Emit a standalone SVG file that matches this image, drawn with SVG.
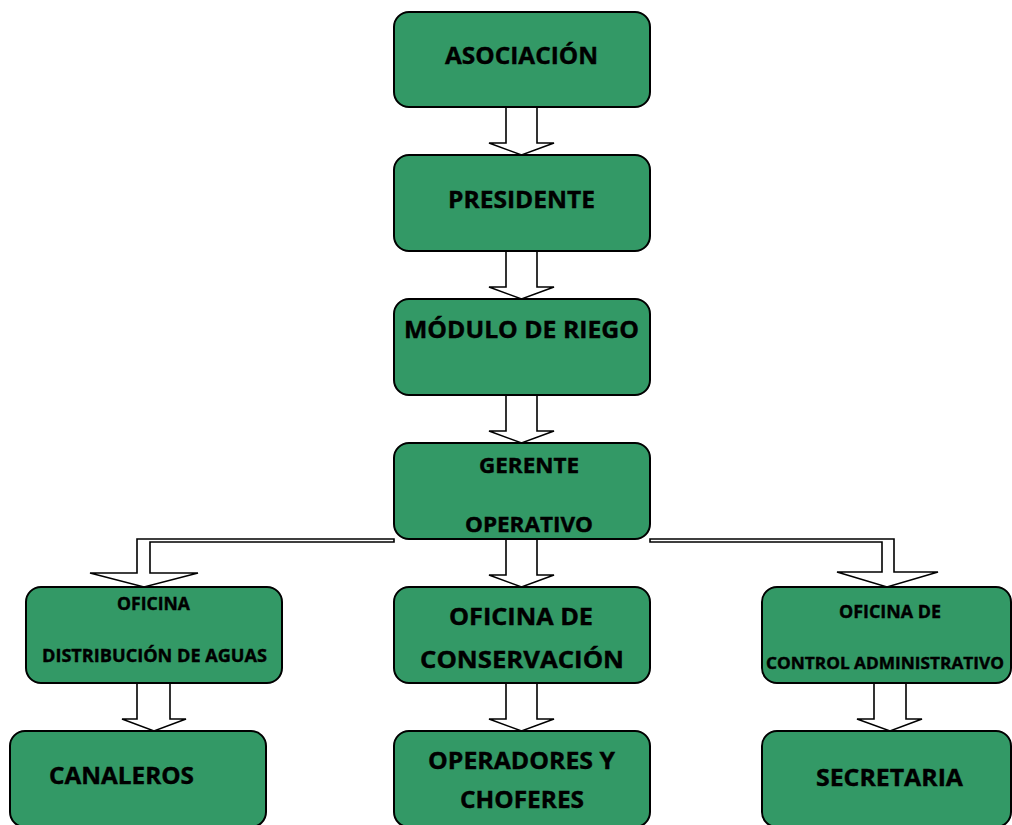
<svg xmlns="http://www.w3.org/2000/svg" width="1012" height="825" viewBox="0 0 1012 825">
<style>
.box{fill:#339966;stroke:#000;stroke-width:2}
.arr{fill:#fff;stroke:#000;stroke-width:1.6;stroke-linejoin:miter}
text{font-family:"Open Sans","Liberation Sans",sans-serif;font-weight:bold;fill:#000;stroke:#000;stroke-width:0.4}
.l{font-size:24px}
.m{font-size:21px}
.s{font-size:18px}
</style>
<rect width="1012" height="825" fill="#fff"/>
<g id="connectors">
<polygon class="arr" points="506,107 537,107 537,143 554,143 521.5,155 489,143 506,143"/>
<polygon class="arr" points="506,251 537,251 537,287 554,287 521.5,299 489,287 506,287"/>
<polygon class="arr" points="506,395 537,395 537,431 554,431 521.5,443 489,431 506,431"/>
<polygon class="arr" points="506,539 537,539 537,575 554,575 521.5,587 489,575 506,575"/>
<polygon class="arr" points="394,539 137,539 137,573 90,573 144,587 198,573 150,573 150,542 394,542"/>
<polygon class="arr" points="650,539 894,539 894,572 938,572 887,587 837,572 882,572 882,542 650,542"/>
<polygon class="arr" points="137,683 170,683 170,719 186,719 154,731 122,719 137,719"/>
<polygon class="arr" points="506,683 537,683 537,719 554,719 521.5,731 489,719 506,719"/>
<polygon class="arr" points="874,683 906,683 906,719 922,719 890,731 857,719 874,719"/>
</g>
<g id="asociacion"><rect class="box" x="394" y="12" width="256" height="95" rx="15"/><text class="l" x="445" y="64" textLength="153" lengthAdjust="spacingAndGlyphs">ASOCIACIÓN</text></g>
<g id="presidente"><rect class="box" x="394" y="155" width="256" height="96" rx="15"/><text class="l" x="448" y="208" textLength="147" lengthAdjust="spacingAndGlyphs">PRESIDENTE</text></g>
<g id="modulo"><rect class="box" x="394" y="299" width="256" height="96" rx="15"/><text class="l" x="404" y="338" textLength="235" lengthAdjust="spacingAndGlyphs">MÓDULO DE RIEGO</text></g>
<g id="gerente"><rect class="box" x="394" y="443" width="256" height="96" rx="15"/><text class="m" x="479" y="473" textLength="100" lengthAdjust="spacingAndGlyphs">GERENTE</text><text class="m" x="465" y="532" textLength="128" lengthAdjust="spacingAndGlyphs">OPERATIVO</text></g>
<g id="oficina-distribucion"><rect class="box" x="26" y="587" width="256" height="96" rx="15"/><text class="s" x="117" y="610" textLength="73" lengthAdjust="spacingAndGlyphs">OFICINA</text><text class="s" x="42" y="662" textLength="225" lengthAdjust="spacingAndGlyphs">DISTRIBUCIÓN DE AGUAS</text></g>
<g id="oficina-conservacion"><rect class="box" x="394" y="587" width="256" height="96" rx="15"/><text class="l" x="449" y="625" textLength="144" lengthAdjust="spacingAndGlyphs">OFICINA DE</text><text class="l" x="420" y="668" textLength="204" lengthAdjust="spacingAndGlyphs">CONSERVACIÓN</text></g>
<g id="oficina-control"><rect class="box" x="762" y="587" width="249" height="96" rx="15"/><text class="s" x="839" y="618" textLength="102" lengthAdjust="spacingAndGlyphs">OFICINA DE</text><text class="s" x="766" y="669" font-size="16" style="font-size:16px" textLength="238" lengthAdjust="spacingAndGlyphs">CONTROL ADMINISTRATIVO</text></g>
<g id="canaleros"><rect class="box" x="10" y="731" width="256" height="96" rx="15"/><text class="l" x="49" y="784" textLength="145" lengthAdjust="spacingAndGlyphs">CANALEROS</text></g>
<g id="operadores"><rect class="box" x="394" y="731" width="256" height="96" rx="15"/><text class="l" x="428" y="769" textLength="187" lengthAdjust="spacingAndGlyphs">OPERADORES Y</text><text class="l" x="460" y="808" textLength="124" lengthAdjust="spacingAndGlyphs">CHOFERES</text></g>
<g id="secretaria"><rect class="box" x="762" y="731" width="249" height="96" rx="15"/><text class="l" x="816" y="786" textLength="147" lengthAdjust="spacingAndGlyphs">SECRETARIA</text></g>
</svg>
